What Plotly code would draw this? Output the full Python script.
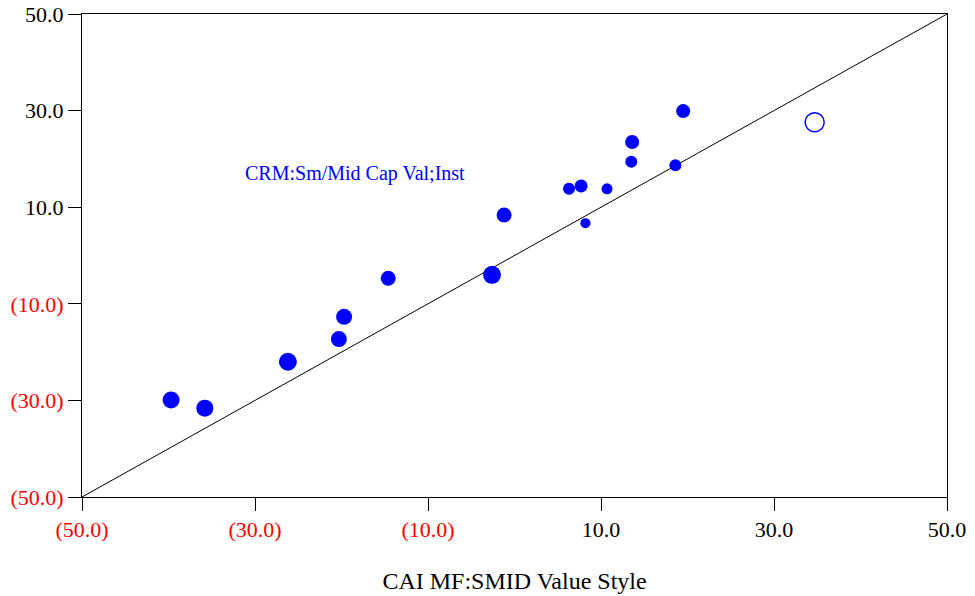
import plotly.graph_objects as go

# peer funds: style benchmark return (x) vs fund return (y)
x_vals = [-39.7, -35.8, -26.2, -20.3, -19.7, -14.6, -2.6, -1.2, 6.3, 7.7, 8.2, 10.7, 13.5, 13.6, 18.6, 19.5]
y_vals = [-29.9, -31.6, -22.0, -17.3, -12.7, -4.7, -4.0, 8.4, 13.8, 14.4, 6.7, 13.8, 19.4, 23.5, 18.7, 29.9]
sizes = [17, 17, 18, 16, 16, 15, 18, 15, 12, 13, 10, 11, 12, 14, 12, 14]

# highlighted fund (open circle)
fund_x = [34.7]
fund_y = [27.6]
fund_name = "CRM:Sm/Mid Cap Val;Inst"
label_pos = [-18.4, 16.9]

tick_vals = [-50, -30, -10, 10, 30, 50]
tick_text = []
for v in tick_vals:
    if v < 0:
        tick_text.append(f"<span style='color:red'>({abs(v):.1f})</span>")
    else:
        tick_text.append(f"{v:.1f}")

fig = go.Figure()

# 45 degree reference line
fig.add_trace(go.Scatter(x=[-50, 50], y=[-50, 50], mode='lines',
                         line=dict(color='black', width=1), hoverinfo='skip'))

fig.add_trace(go.Scatter(x=x_vals, y=y_vals, mode='markers',
                         marker=dict(color='#0000ff', size=sizes, opacity=1, line=dict(width=0))))

fig.add_trace(go.Scatter(x=fund_x, y=fund_y, mode='markers',
                         marker=dict(color='rgba(0,0,0,0)', size=19, opacity=1,
                                     line=dict(color='#0000ff', width=1.5))))

fig.add_annotation(x=label_pos[0], y=label_pos[1], text=fund_name, showarrow=False,
                   font=dict(color='#0000ff', size=20, family='Liberation Serif'))

axis_style = dict(range=[-50, 50], tickvals=tick_vals, ticktext=tick_text,
                  showline=True, linecolor='black', linewidth=1, mirror=True,
                  ticks='outside', ticklen=13, tickcolor='black', tickwidth=1,
                  showgrid=False, zeroline=False, automargin=False,
                  tickfont=dict(family='Liberation Serif', size=22, color='black'))

fig.update_xaxes(**axis_style)
fig.update_yaxes(**axis_style)
fig.update_xaxes(title=dict(text='CAI MF:SMID Value Style', standoff=30,
                            font=dict(family='Liberation Serif', size=24, color='black')))

fig.update_layout(width=975, height=596, showlegend=False,
                  plot_bgcolor='white', paper_bgcolor='white',
                  margin=dict(l=82, r=28, t=14, b=99, autoexpand=False))

# drop the page's default body margin so the chart sits at the window corner
fig.write_html("out.html", config={'displayModeBar': False},
               post_script="document.body.style.margin='0';")
